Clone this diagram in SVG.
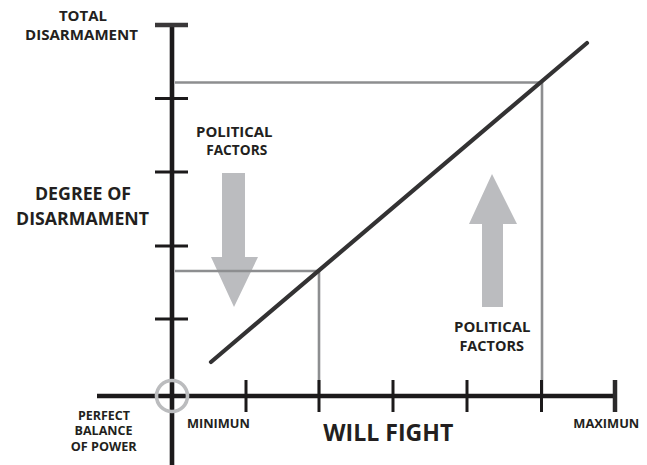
<svg xmlns="http://www.w3.org/2000/svg" width="647" height="465" viewBox="0 0 647 465">
<style>
text{font-family:"Open Sans","Liberation Sans",sans-serif;font-weight:700;fill:#231f20;text-anchor:middle}
.axis{stroke:#1c1a1b;stroke-width:4.6;fill:none}
.tick{stroke:#1c1a1b;stroke-width:3;fill:none}
.guide{stroke:#8d8e90;stroke-width:2.6;fill:none}
.arrow{fill:#bbbcbf}
</style>
<rect width="647" height="465" fill="#fff"/>
<g id="arrows">
<polygon id="arrow-down" class="arrow" points="222,173 245,173 245,257 258,257 234,307 211,257 222,257"/>
<polygon id="arrow-up" class="arrow" points="482,307 503,307 503,224 517,224 492,174 469,224 482,224"/>
</g>
<g id="connectors">
<polyline class="guide" points="175,82.5 542,82.5 542,396"/>
<polyline class="guide" points="175,271 319,271 319,396" stroke="#9c9ea1"/>
<line x1="211" y1="362" x2="587" y2="43" stroke="#333233" stroke-width="4.2" stroke-linecap="round"/>
</g>
<g id="y-axis">
<line class="axis" x1="172" y1="25" x2="172" y2="465"/>
<line x1="155" y1="25" x2="188" y2="25" stroke="#3a3839" stroke-width="4.6"/>
<line class="tick" x1="155" y1="98.5" x2="188" y2="98.5"/>
<line class="tick" x1="155" y1="172" x2="188" y2="172"/>
<line class="tick" x1="155" y1="246" x2="188" y2="246"/>
<line class="tick" x1="155" y1="319" x2="188" y2="319"/>
</g>
<g id="x-axis">
<line class="axis" x1="97" y1="396" x2="616" y2="396"/>
<line x1="615" y1="380" x2="615" y2="412" stroke="#2b2a2b" stroke-width="4.5"/>
<line class="tick" x1="246" y1="380" x2="246" y2="412"/>
<line class="tick" x1="319" y1="380" x2="319" y2="412"/>
<line class="tick" x1="393" y1="380" x2="393" y2="412"/>
<line class="tick" x1="467" y1="380" x2="467" y2="412"/>
<line class="tick" x1="541.5" y1="380" x2="541.5" y2="412"/>
</g>
<g id="origin">
<circle cx="172" cy="396" r="15.5" fill="none" stroke="#bbbcbe" stroke-width="3.6"/>
</g>
<g id="labels">
<text x="83" y="20.5" font-size="15">TOTAL</text>
<text x="81.5" y="39.5" font-size="15" textLength="113" lengthAdjust="spacingAndGlyphs">DISARMAMENT</text>
<text x="83" y="199.5" font-size="17.8">DEGREE OF</text>
<text x="82.5" y="225" font-size="17.8" textLength="133" lengthAdjust="spacingAndGlyphs">DISARMAMENT</text>
<text x="234.3" y="136.5" font-size="15" textLength="76.5" lengthAdjust="spacingAndGlyphs">POLITICAL</text>
<text x="236.7" y="155" font-size="15" textLength="61" lengthAdjust="spacingAndGlyphs">FACTORS</text>
<text x="492.3" y="331.5" font-size="15" textLength="76.5" lengthAdjust="spacingAndGlyphs">POLITICAL</text>
<text x="491.7" y="350.5" font-size="15" textLength="64.5" lengthAdjust="spacingAndGlyphs">FACTORS</text>
<text x="104" y="419.5" font-size="12.5" textLength="52" lengthAdjust="spacingAndGlyphs">PERFECT</text>
<text x="103.5" y="435" font-size="12.5" textLength="58" lengthAdjust="spacingAndGlyphs">BALANCE</text>
<text x="103.7" y="450.5" font-size="12.5" textLength="66" lengthAdjust="spacingAndGlyphs">OF POWER</text>
<text x="218.4" y="427.5" font-size="12.6" textLength="63" lengthAdjust="spacingAndGlyphs">MINIMUN</text>
<text x="606.3" y="427.5" font-size="12.3" textLength="66" lengthAdjust="spacingAndGlyphs">MAXIMUN</text>
<text x="388.3" y="441" font-size="23" textLength="130" lengthAdjust="spacingAndGlyphs">WILL FIGHT</text>
</g>
</svg>
